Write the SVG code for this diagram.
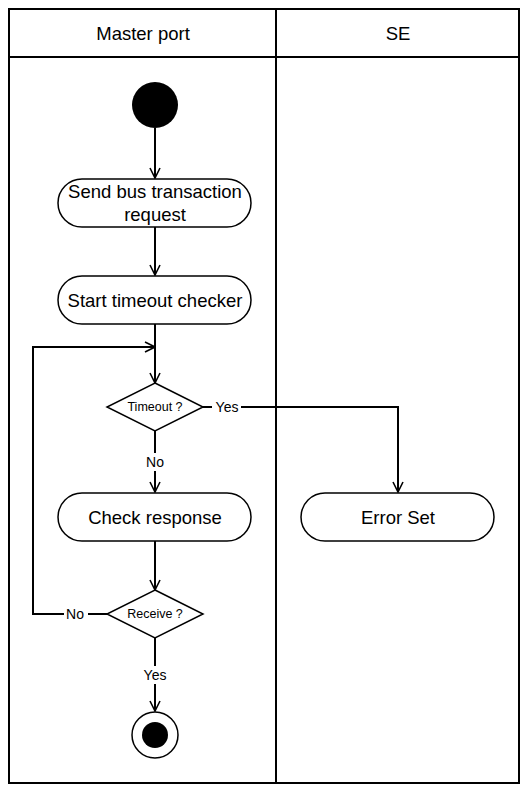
<svg xmlns="http://www.w3.org/2000/svg" width="523" height="793" viewBox="0 0 523 793">
<style>
.frame{fill:none;stroke:#000;stroke-width:2}
.node{fill:#fff;stroke:#000;stroke-width:1.5}
.edge{fill:none;stroke:#000;stroke-width:2}
.t{font-family:"Liberation Sans","DejaVu Sans",sans-serif;font-size:18.5px;fill:#000;text-anchor:middle;dominant-baseline:central}
.s{font-family:"Liberation Sans","DejaVu Sans",sans-serif;font-size:12.5px;fill:#000;text-anchor:middle;dominant-baseline:central}
.lbl{font-family:"Liberation Sans","DejaVu Sans",sans-serif;font-size:14px;fill:#000;text-anchor:middle;dominant-baseline:central}
</style>
<defs>
<marker id="arr" viewBox="0 0 12 12" refX="11" refY="6" markerWidth="12" markerHeight="12" markerUnits="userSpaceOnUse" orient="auto">
<path d="M1,1 L11,6 L1,11" fill="none" stroke="#000" stroke-width="1.6"/>
</marker>
</defs>
<rect x="0" y="0" width="523" height="793" fill="#fff"/>
<g id="lanes">
<rect class="frame" x="9" y="9" width="510" height="774"/>
<line class="frame" x1="9" y1="57" x2="519" y2="57"/>
<line class="frame" x1="276" y1="9" x2="276" y2="783"/>
<text class="t" x="143" y="33">Master port</text>
<text class="t" x="398" y="33">SE</text>
</g>
<g id="connectors">
<line class="edge" x1="155" y1="128" x2="155" y2="178" marker-end="url(#arr)"/>
<line class="edge" x1="155" y1="227" x2="155" y2="275" marker-end="url(#arr)"/>
<line class="edge" x1="155" y1="324" x2="155" y2="383" marker-end="url(#arr)"/>
<polyline class="edge" points="107,614 33,614 33,347 155,347" marker-end="url(#arr)"/>
<polyline class="edge" points="203,407 398,407 398,492" marker-end="url(#arr)"/>
<line class="edge" x1="155" y1="431" x2="155" y2="492" marker-end="url(#arr)"/>
<line class="edge" x1="155" y1="541" x2="155" y2="590" marker-end="url(#arr)"/>
<line class="edge" x1="155" y1="638" x2="155" y2="711" marker-end="url(#arr)"/>
<rect x="212" y="398" width="29" height="18" fill="#fff"/>
<text class="lbl" x="227" y="407">Yes</text>
<rect x="143" y="453" width="24" height="18" fill="#fff"/>
<text class="lbl" x="155" y="462">No</text>
<rect x="64" y="605" width="24" height="18" fill="#fff"/>
<text class="lbl" x="75" y="614">No</text>
<rect x="141" y="666" width="29" height="18" fill="#fff"/>
<text class="lbl" x="155" y="675">Yes</text>
</g>
<g id="start">
<circle cx="155" cy="105" r="23" fill="#000"/>
</g>
<g id="send">
<rect class="node" x="58" y="179" width="193" height="48" rx="24"/>
<text class="t" x="155" y="191">Send bus transaction</text>
<text class="t" x="155" y="214">request</text>
</g>
<g id="timer">
<rect class="node" x="58" y="276" width="193" height="48" rx="24"/>
<text class="t" x="155" y="300">Start timeout checker</text>
</g>
<g id="timeout">
<polygon class="node" points="155,383 203,407 155,431 107,407"/>
<text class="s" x="155" y="407">Timeout ?</text>
</g>
<g id="check">
<rect class="node" x="58" y="493" width="193" height="48" rx="24"/>
<text class="t" x="155" y="517">Check response</text>
</g>
<g id="error">
<rect class="node" x="301" y="493" width="193" height="48" rx="24"/>
<text class="t" x="398" y="517">Error Set</text>
</g>
<g id="receive">
<polygon class="node" points="155,590 203,614 155,638 107,614"/>
<text class="s" x="155" y="614">Receive ?</text>
</g>
<g id="end">
<circle cx="155" cy="735" r="23" fill="#fff" stroke="#000" stroke-width="1.5"/>
<circle cx="155" cy="735" r="13" fill="#000"/>
</g>
</svg>
